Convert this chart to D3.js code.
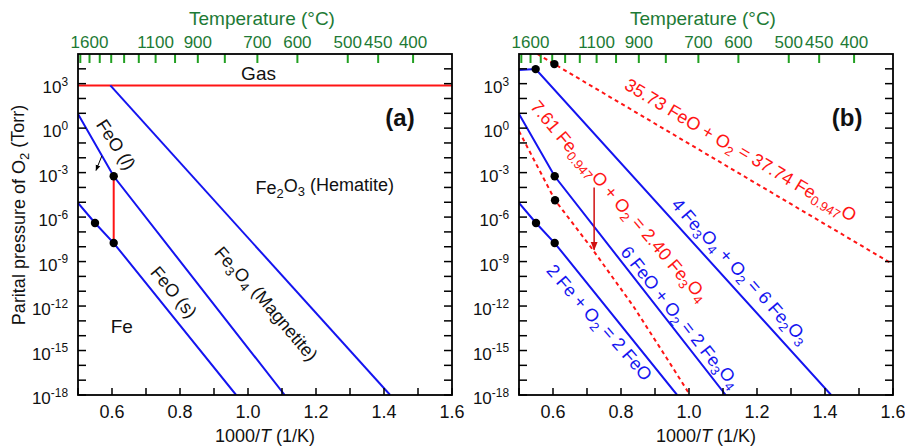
<!DOCTYPE html>
<html>
<head>
<meta charset="utf-8">
<title>Fe-O phase diagram</title>
<script src="https://d3js.org/d3.v7.min.js"></script>
<style>
  body { margin: 0; background: #fff; }
  svg text { font-family: "Liberation Sans", Arial, sans-serif; }
</style>
</head>
<body>
<svg id="chart" width="905" height="447"></svg>
<script>
// ---- data (x = 1000/T in 1/K, y = log10 of pO2 in Torr) ----
var tempTicks = [1700, 1600, 1500, 1400, 1300, 1200, 1100, 1000, 900, 800, 700, 600, 500, 450, 400];
var tempLabels = [1600, 1100, 900, 700, 600, 500, 450, 400];
var xTicks = [0.5, 0.6, 0.7, 0.8, 0.9, 1.0, 1.1, 1.2, 1.3, 1.4, 1.5, 1.6];
var xLabels = [0.6, 0.8, 1.0, 1.2, 1.4, 1.6];
var yTicks = [-18, -17, -16, -15, -14, -13, -12, -11, -10, -9, -8, -7, -6, -5, -4, -3, -2, -1, 0, 1, 2, 3, 4];
var yLabels = [3, 0, -3, -6, -9, -12, -15, -18];

var gasLine = [[0.5, 2.88], [1.6, 2.88]];
var hematiteA = [[0.595, 2.88], [1.418, -18]];
var hematiteB = [[0.5, 3.92], [0.549, 3.98], [1.418, -18]];
var magnetite = [[0.5, 0.95], [0.605, -3.25], [1.108, -18]];
var wustite = [[0.5, -5.05], [0.55, -6.4], [0.605, -7.75], [0.965, -18]];
var redUpper = [[0.554, 5], [0.604, 4.32], [1.6, -9.19]];
var redLower = [[0.5, -0.2], [0.606, -4.86], [0.709, -7.95], [0.836, -12.0], [0.934, -15.5], [1.003, -18]];

var dotsA = [[0.605, -3.25], [0.55, -6.4], [0.605, -7.75]];
var dotsB = [[0.549, 3.98], [0.604, 4.32], [0.605, -3.25], [0.606, -4.86], [0.55, -6.4], [0.605, -7.75]];

var blue = "#1414f0", red = "#ff1414";

var svg = d3.select("#chart");
var defs = svg.append("defs");
function marker(id, color) {
  defs.append("marker").attr("id", id)
    .attr("viewBox", "0 0 10 10").attr("refX", 9).attr("refY", 5)
    .attr("markerWidth", 6).attr("markerHeight", 6).attr("orient", "auto")
    .append("path").attr("d", "M0,1 L10,5 L0,9 Z").attr("fill", color);
}
marker("arrBlack", "#000");
marker("arrRed", "#d01010");

// text with _{sub} and italic *x*
function richText(sel, str) {
  var parts = str.split(/(_\{[^}]*\}|\*[^*]*\*)/);
  var shifted = false;
  parts.forEach(function (p) {
    if (!p) return;
    var t = sel.append("tspan");
    if (p[0] === "_") {
      t.text(p.slice(2, -1)).attr("font-size", "0.72em").attr("dy", "0.3em");
      shifted = true;
    } else {
      if (p[0] === "*") { t.text(p.slice(1, -1)).attr("font-style", "italic"); }
      else t.text(p);
      if (shifted) { t.attr("dy", "-0.3em"); shifted = false; }
    }
  });
}

function drawPanel(x0, x1, opts) {
  var g = svg.append("g");
  var top = 54, bottom = 395;
  var x = d3.scaleLinear().domain([0.5, 1.6]).range([x0, x1]);
  var y = d3.scaleLog().domain([1e-18, 1e5]).range([bottom, top]);
  var Y = function (e) { return y(Math.pow(10, e)); };
  var line = d3.line().x(function (d) { return x(d[0]); }).y(function (d) { return Y(d[1]); });

  var clipId = "clip" + x0;
  defs.append("clipPath").attr("id", clipId).append("rect")
    .attr("x", x0).attr("y", top).attr("width", x1 - x0).attr("height", bottom - top);
  var plot = g.append("g").attr("clip-path", "url(#" + clipId + ")");

  // left / right ticks
  yTicks.forEach(function (e) {
    g.append("line").attr("x1", x0).attr("x2", x0 + 8).attr("y1", Y(e)).attr("y2", Y(e))
      .attr("stroke", "#000").attr("stroke-width", 1.5);
    g.append("line").attr("x1", x1).attr("x2", x1 - 8).attr("y1", Y(e)).attr("y2", Y(e))
      .attr("stroke", "#000").attr("stroke-width", 1.5);
  });
  yLabels.forEach(function (e) {
    var t = g.append("text").attr("x", x0 - 10).attr("y", Y(e) + 9)
      .attr("text-anchor", "end").attr("font-size", 17).attr("fill", "#111");
    t.append("tspan").text("10");
    t.append("tspan").text(e).attr("font-size", "0.7em").attr("dy", "-0.6em");
  });
  // bottom ticks
  xTicks.forEach(function (v) {
    g.append("line").attr("x1", x(v)).attr("x2", x(v)).attr("y1", bottom).attr("y2", bottom - 7)
      .attr("stroke", "#000").attr("stroke-width", 1.5);
  });
  xLabels.forEach(function (v) {
    g.append("text").attr("x", x(v)).attr("y", 418).attr("text-anchor", "middle")
      .attr("font-size", 18).attr("fill", "#111").text(d3.format(".1f")(v));
  });
  var xt = g.append("text").attr("x", (x0 + x1) / 2).attr("y", 442).attr("text-anchor", "middle")
    .attr("font-size", 18).attr("fill", "#111");
  richText(xt, "1000/*T* (1/K)");

  // top temperature axis
  tempTicks.forEach(function (c) {
    var v = 1000 / (c + 273.15);
    g.append("line").attr("x1", x(v)).attr("x2", x(v)).attr("y1", top).attr("y2", top + 9)
      .attr("stroke", "#22a022").attr("stroke-width", 2);
  });
  tempLabels.forEach(function (c) {
    var v = 1000 / (c + 273.15);
    g.append("text").attr("x", x(v)).attr("y", 48).attr("text-anchor", "middle")
      .attr("font-size", 17).attr("fill", "#1d7a35").text(c);
  });
  g.append("text").attr("x", (x0 + x1) / 2 - 3).attr("y", 25).attr("text-anchor", "middle")
    .attr("font-size", 19).attr("fill", "#1d7a35").text("Temperature (°C)");

  // curves
  opts.lines.forEach(function (l) {
    plot.append("path").datum(l.data).attr("d", line).attr("fill", "none")
      .attr("stroke", l.color).attr("stroke-width", 2)
      .attr("stroke-dasharray", l.dash ? "4,3.5" : null);
  });
  opts.arrows.forEach(function (a) {
    g.append("line").attr("x1", x(a.from[0])).attr("y1", Y(a.from[1]))
      .attr("x2", x(a.to[0])).attr("y2", Y(a.to[1]))
      .attr("stroke", a.color).attr("stroke-width", a.width)
      .attr("marker-end", "url(#" + a.marker + ")");
  });
  g.selectAll("circle.dot" + x0).data(opts.dots).enter().append("circle")
    .attr("cx", function (d) { return x(d[0]); }).attr("cy", function (d) { return Y(d[1]); })
    .attr("r", 4.2).attr("fill", "#000");

  opts.labels.forEach(function (l) {
    var t = g.append("text")
      .attr("transform", "translate(" + x(l.at[0]) + "," + Y(l.at[1]) + ") rotate(" + (l.rot || 0) + ")")
      .attr("text-anchor", "middle").attr("dy", "0.35em")
      .attr("font-size", l.size || 18).attr("font-weight", l.bold ? "bold" : null)
      .attr("fill", l.color || "#111");
    richText(t, l.text);
  });

  // frame
  g.append("rect").attr("x", x0).attr("y", top).attr("width", x1 - x0).attr("height", bottom - top)
    .attr("fill", "none").attr("stroke", "#000").attr("stroke-width", 1.8);
}

drawPanel(78, 452, {
  lines: [
    { data: gasLine, color: red },
    { data: hematiteA, color: blue },
    { data: magnetite, color: blue },
    { data: wustite, color: blue },
    { data: [dotsA[0], dotsA[2]], color: red }
  ],
  arrows: [{ from: [0.57, -1.88], to: [0.553, -2.85], color: "#000", width: 1, marker: "arrBlack" }],
  dots: dotsA,
  labels: [
    { text: "Gas", at: [1.031, 3.69], size: 19 },
    { text: "(a)", at: [1.447, 0.68], bold: true, size: 24 },
    { text: "Fe_{2}O_{3} (Hematite)", at: [1.226, -4.0] },
    { text: "Fe_{3}O_{4} (Magnetite)", at: [1.05, -11.9], rot: 50 },
    { text: "FeO (s)", at: [0.782, -11.05], rot: 50 },
    { text: "Fe", at: [0.629, -13.4], size: 19 },
    { text: "FeO (*l*)", at: [0.612, -1.1], rot: 57 }
  ]
});

drawPanel(519, 893, {
  lines: [
    { data: hematiteB, color: blue },
    { data: magnetite, color: blue },
    { data: wustite, color: blue },
    { data: redUpper, color: red, dash: true },
    { data: redLower, color: red, dash: true }
  ],
  arrows: [{ from: [0.721, -4.0], to: [0.721, -8.2], color: "#d01010", width: 1.5, marker: "arrRed" }],
  dots: dotsB,
  labels: [
    { text: "(b)", at: [1.465, 0.68], bold: true, size: 24 },
    { text: "35.73 FeO + O_{2} = 37.74 Fe_{0.947}O", at: [1.15, -1.55], rot: 31, color: red },
    { text: "7.61 Fe_{0.947}O + O_{2} = 2.40 Fe_{3}O_{4}", at: [0.79, -5.0], rot: 50, color: red },
    { text: "4 Fe_{3}O_{4} + O_{2} = 6 Fe_{2}O_{3}", at: [1.144, -9.77], rot: 49, color: blue },
    { text: "6 FeO + O_{2} = 2 Fe_{3}O_{4}", at: [0.971, -12.8], rot: 52, color: blue },
    { text: "2 Fe + O_{2} = 2 FeO", at: [0.735, -13.14], rot: 49, color: blue }
  ]
});

// y axis title
var yt = svg.append("text").attr("transform", "translate(25,215) rotate(-90)")
  .attr("text-anchor", "middle").attr("font-size", 18).attr("fill", "#111");
richText(yt, "Parital pressure of O_{2} (Torr)");
</script>
</body>
</html>
